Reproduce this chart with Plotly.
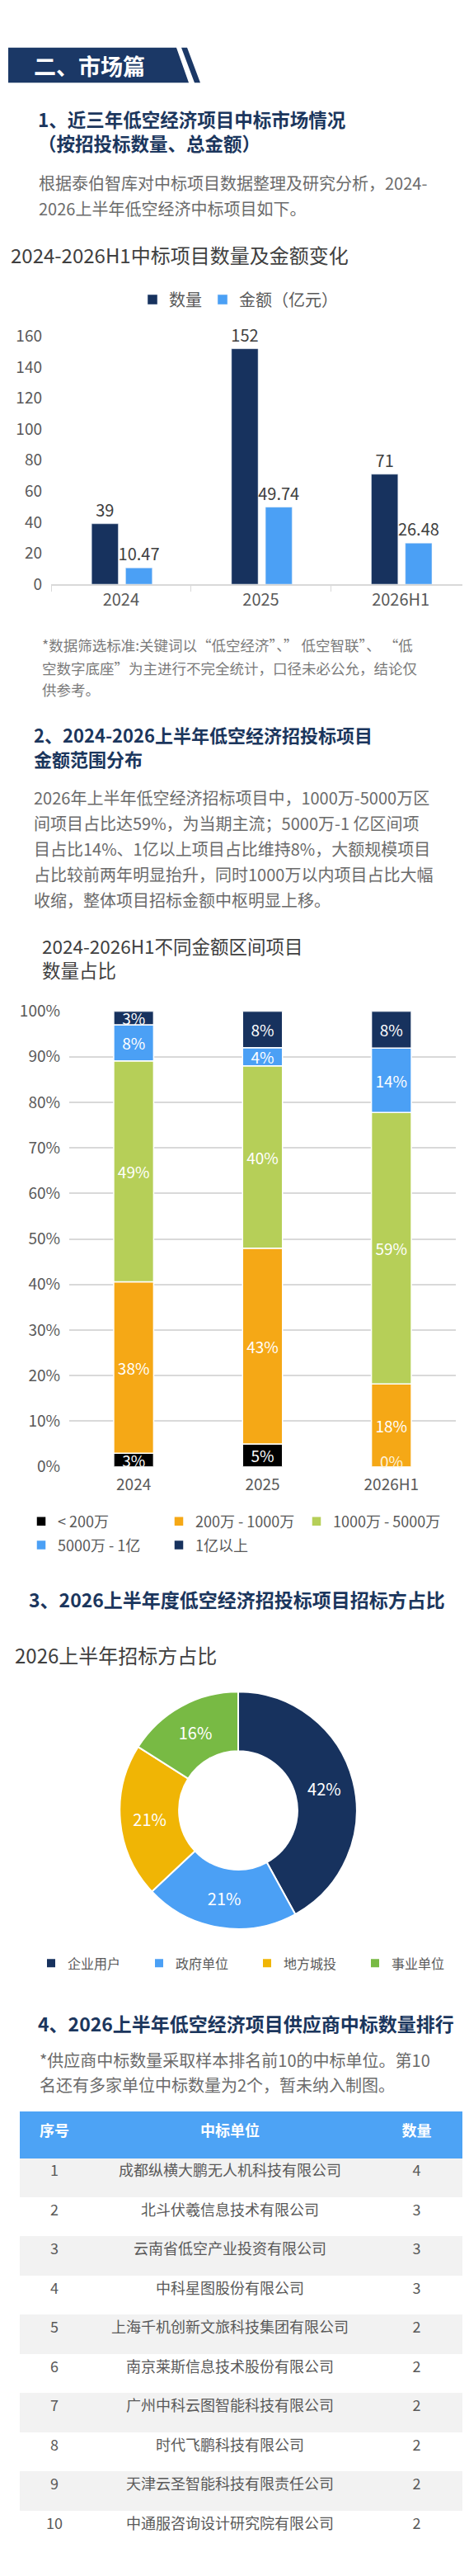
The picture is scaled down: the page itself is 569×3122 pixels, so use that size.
import plotly.graph_objects as go

W, H = 569, 3122
FONT = "Noto Sans CJK SC, Microsoft YaHei, sans-serif"
NAVY = "#17325e"
LBLUE = "#4ba0f5"
HEAD = "#1b365d"
BODY = "#6b6b6b"
AXIS = "#595959"

# chart 1: 中标项目数量及金额
years = ["2024", "2025", "2026H1"]
counts = [39, 152, 71]
amounts = [10.47, 49.74, 26.48]

# chart 2: 不同金额区间项目数量占比 (%)
bands = ["< 200万", "200万 - 1000万", "1000万 - 5000万", "5000万 - 1亿", "1亿以上"]
share_lt200 = [3, 5, 0]
share_200_1000 = [38, 43, 18]
share_1000_5000 = [49, 40, 59]
share_5000_1e = [8, 4, 14]
share_gt1e = [3, 8, 8]
band_colors = ["#000000", "#f5a816", "#b6cf58", LBLUE, NAVY]

# chart 3: 招标方占比
buyers = ["企业用户", "政府单位", "地方城投", "事业单位"]
buyer_share = [42, 21, 21, 16]
buyer_colors = [NAVY, LBLUE, "#f0b505", "#78ba44"]

# table: 供应商中标数量排行
rank = list(range(1, 11))
winners = [
    "成都纵横大鹏无人机科技有限公司",
    "北斗伏羲信息技术有限公司",
    "云南省低空产业投资有限公司",
    "中科星图股份有限公司",
    "上海千机创新文旅科技集团有限公司",
    "南京莱斯信息技术股份有限公司",
    "广州中科云图智能科技有限公司",
    "时代飞鹏科技有限公司",
    "天津云圣智能科技有限责任公司",
    "中通服咨询设计研究院有限公司",
]
win_counts = [4, 3, 3, 3, 2, 2, 2, 2, 2, 2]


def px(x):
    return x / W


def py(y):
    return 1 - y / H


fig = go.Figure()
ann = []

# ---- chart 1
fig.add_trace(go.Bar(
    x=years, y=counts, name="数量", marker_color=NAVY,
    offset=-0.21, width=0.19, text=counts, textposition="outside",
    constraintext="none", textangle=0, cliponaxis=False,
    textfont=dict(size=20, color="#404040"), legend="legend",
    xaxis="x", yaxis="y",
))
fig.add_trace(go.Bar(
    x=years, y=amounts, name="金额（亿元）", marker_color=LBLUE,
    offset=0.033, width=0.19, text=[f"{v:.2f}" for v in amounts],
    textposition="outside", constraintext="none", textangle=0,
    cliponaxis=False, textfont=dict(size=20, color="#404040"),
    legend="legend", xaxis="x", yaxis="y",
))

# ---- chart 2 (100% stacked); legend split over two rows like the source
series = [share_lt200, share_200_1000, share_1000_5000, share_5000_1e, share_gt1e]
legend_rows = ["legend2", "legend2", "legend2", "legend4", "legend4"]
legend_w = [122, 122, 150, 122, 122]
totals = [sum(s[i] for s in series) for i in range(len(years))]
base = [0.0] * len(years)
for name, vals, col, lg, lw in zip(bands, series, band_colors, legend_rows, legend_w):
    h = [v / t * 100 for v, t in zip(vals, totals)]
    fig.add_trace(go.Bar(
        x=years, y=h, base=list(base), name=name, marker_color=col,
        marker_line=dict(color="white", width=1.5), width=0.31,
        text=[f"{v}%" for v in vals], textposition="inside",
        insidetextanchor="middle", constraintext="none", textangle=0,
        textfont=dict(size=19, color="white"), legend=lg, legendwidth=lw,
        xaxis="x2", yaxis="y2",
    ))
    # zero-height segments still carry their label, as in the source chart
    for yr, v, b in zip(years, vals, base):
        if v == 0:
            ann.append(dict(xref="x2", yref="y2", x=yr, y=b, text=f"{v}%",
                            showarrow=False, yanchor="bottom", yshift=-8,
                            font=dict(size=19, color="#fdf3dc",
                                      family=FONT)))
    base = [b + d for b, d in zip(base, h)]

# ---- chart 3 donut
fig.add_trace(go.Pie(
    labels=buyers, values=buyer_share, hole=0.5, sort=False,
    direction="clockwise", rotation=0,
    marker=dict(colors=buyer_colors, line=dict(color="white", width=2)),
    textinfo="percent", textposition="inside",
    insidetextorientation="horizontal",
    textfont=dict(size=20, color="white"), legend="legend3",
    domain=dict(x=[px(136), px(426)], y=[py(2335), py(2045)]),
))

# ---- table
row_fill = ["#f2f2f2" if i % 2 == 0 else "white" for i in range(len(rank))]
fig.add_trace(go.Table(
    domain=dict(x=[px(16), px(553)], y=[py(3100), py(2559)]),
    columnwidth=[84, 342, 111],
    header=dict(
        values=["<b>序号</b>", "<b>中标单位</b>", "<b>数量</b>"],
        fill_color="#4da3f5", line_color="#4da3f5", align="center",
        height=56, font=dict(color="white", size=18, family=FONT),
    ),
    cells=dict(
        values=[rank, winners, win_counts],
        fill_color=[row_fill], line_color=[row_fill], align="center",
        height=47.5, font=dict(color=AXIS, size=18, family=FONT),
    ),
))


# ---- texts
def txt(x, y, s, size, color, bold=False):
    if bold:
        s = "<br>".join(f"<b>{p}</b>" for p in s.split("<br>"))
    ann.append(dict(
        xref="paper", yref="paper", x=px(x), y=py(y),
        text=s, showarrow=False, align="left",
        xanchor="left", yanchor="middle",
        font=dict(size=size, color=color, family=FONT),
    ))


txt(31, 57, "二、市场篇", 27, "white", True)
txt(36, 137, "1、近三年低空经济项目中标市场情况<br>（按招投标数量、总金额）", 22.5, HEAD, True)
txt(37, 200, "根据泰伯智库对中标项目数据整理及研究分析，2024-", 20, BODY)
txt(37, 231, "2026上半年低空经济中标项目如下。", 20, BODY)
txt(3, 288, "2024-2026H1中标项目数量及金额变化", 24, "#404040")

txt(41, 765, "*数据筛选标准:关键词以“低空经济”、” 低空智联”、 “低", 17.5, "#7a7a7a")
txt(41, 793, "空数字底座”为主进行不完全统计，口径未必公允，结论仅", 17.5, "#7a7a7a")
txt(41, 820, "供参考。", 17.5, "#7a7a7a")

txt(31, 889, "2、2024-2026上半年低空经济招投标项目<br>金额范围分布", 22, HEAD, True)
para2 = [
    "2026年上半年低空经济招标项目中，1000万-5000万区",
    "间项目占比达59%，为当期主流；5000万-1 亿区间项",
    "目占比14%、1亿以上项目占比维持8%，大额规模项目",
    "占比较前两年明显抬升，同时1000万以内项目占比大幅",
    "收缩，整体项目招标金额中枢明显上移。",
]
for i, line in enumerate(para2):
    txt(31, 952 + i * 31.2, line, 20, BODY)
txt(41, 1147, "2024-2026H1不同金额区间项目<br>数量占比", 22.5, "#404040")

txt(25, 1932, "3、2026上半年度低空经济招投标项目招标方占比", 23, HEAD, True)
txt(8, 2000, "2026上半年招标方占比", 24, "#404040")

txt(36, 2450, "4、2026上半年低空经济项目供应商中标数量排行", 23, HEAD, True)
txt(38, 2495, "*供应商中标数量采取样本排名前10的中标单位。第10", 20, BODY)
txt(38, 2525, "名还有多家单位中标数量为2个，暂未纳入制图。", 20, BODY)


# banner shapes
def path(pts):
    return "M " + " L ".join(f"{px(a)},{py(b)}" for a, b in pts) + " Z"


shapes = [
    dict(type="path", xref="paper", yref="paper", line_width=0,
         fillcolor="#1b3866",
         path=path([(2, 35), (206, 35), (221, 78), (2, 78)])),
    dict(type="path", xref="paper", yref="paper", line_width=0,
         fillcolor="#1b3866",
         path=path([(212, 35), (219, 35), (235, 78), (228, 78)])),
]

row_legend = dict(orientation="h", x=px(22), xanchor="left",
                  yanchor="middle", entrywidth=122,
                  font=dict(size=18, color=AXIS), traceorder="normal")

fig.update_layout(
    width=W, height=H, autosize=False,
    margin=dict(l=0, r=0, t=0, b=0),
    paper_bgcolor="white", plot_bgcolor="white",
    font=dict(family=FONT, color=AXIS),
    barmode="overlay", showlegend=True,
    annotations=ann, shapes=shapes,
    xaxis=dict(domain=[px(54), px(563)], anchor="y", showline=True,
               linecolor="#d9d9d9", linewidth=1.5, ticks="outside",
               tickson="boundaries", ticklen=7, tickcolor="#d9d9d9",
               tickfont=dict(size=20, color=AXIS), fixedrange=True),
    yaxis=dict(domain=[py(691), py(388)], anchor="x", range=[0, 160],
               dtick=20, showgrid=False, zeroline=False, showline=False,
               ticklabelstandoff=10,
               tickfont=dict(size=19, color=AXIS), fixedrange=True),
    xaxis2=dict(domain=[px(76), px(545)], anchor="y2", showline=False,
                ticks="", ticklabelstandoff=8,
                tickfont=dict(size=19, color=AXIS), fixedrange=True),
    yaxis2=dict(domain=[py(1770), py(1213)], anchor="x2", range=[0, 100],
                dtick=10, ticksuffix="%", showgrid=True,
                gridcolor="#d9d9d9", gridwidth=1.5, zeroline=False,
                ticklabelstandoff=10,
                tickfont=dict(size=19, color=AXIS), fixedrange=True),
    legend=dict(orientation="h", x=px(282), xanchor="center",
                y=py(343), yanchor="middle",
                font=dict(size=20, color=AXIS)),
    legend2=dict(row_legend, y=py(1837)),
    legend4=dict(row_legend, y=py(1866)),
    legend3=dict(orientation="h", x=px(34), xanchor="left",
                 y=py(2377), yanchor="middle", entrywidth=86,
                 font=dict(size=16, color=AXIS)),
)

fig.write_html("out.html")
